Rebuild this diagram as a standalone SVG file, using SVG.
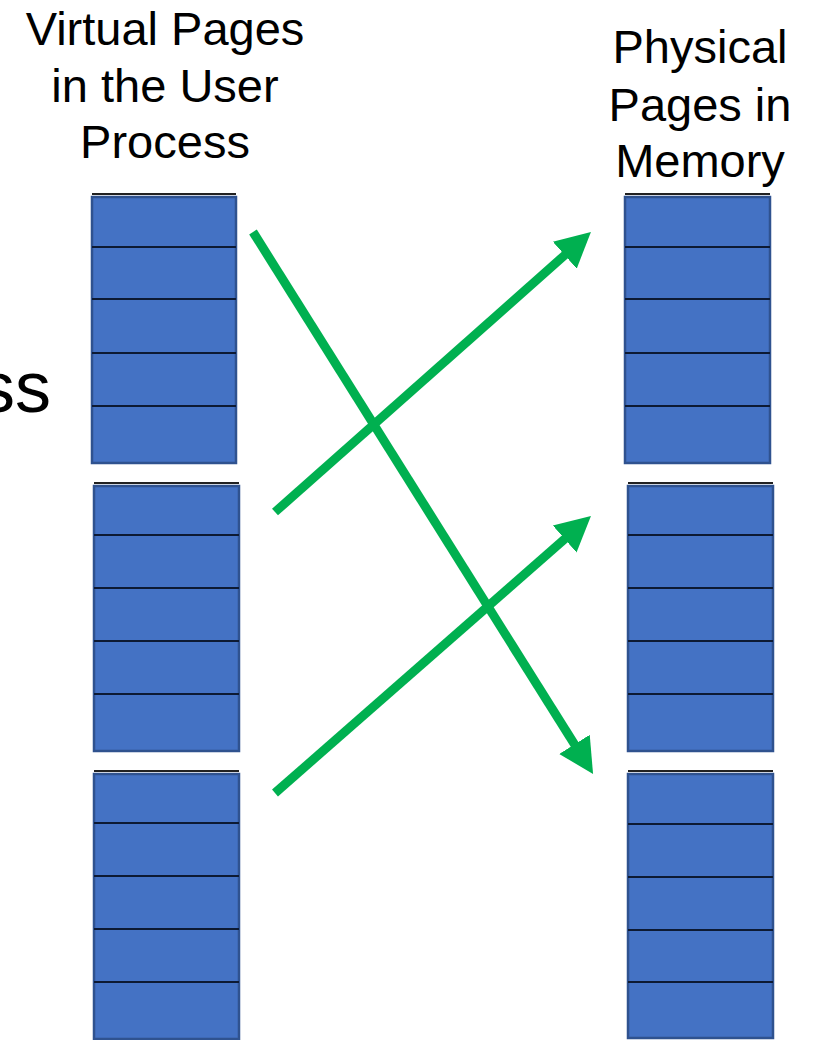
<svg xmlns="http://www.w3.org/2000/svg" width="817" height="1040" viewBox="0 0 817 1040">
<style>
.lbl{font-family:"Liberation Sans",Arial,sans-serif;font-size:47px;fill:#000;text-anchor:middle}
.page{fill:#4472C4;stroke:#2F528F;stroke-width:2.5}
.div{stroke:#0d1a33;stroke-width:2}
.top{stroke:#222;stroke-width:2}
.arr{stroke:#00B050;stroke-width:9;fill:none;marker-end:url(#ah)}
</style>
<defs>
<marker id="ah" markerUnits="userSpaceOnUse" markerWidth="40" markerHeight="40" viewBox="0 -20 40 40" refX="1" refY="0" orient="auto">
<path d="M0,-18 L35,0 L0,18 Z" fill="#00B050"/>
</marker>
</defs>
<rect width="817" height="1040" fill="#fff"/>
<g id="title-virtual">
<text class="lbl" x="165" y="45">Virtual Pages</text>
<text class="lbl" x="165" y="102">in the User</text>
<text class="lbl" x="165" y="158">Process</text>
</g>
<g id="title-physical">
<text class="lbl" x="700" y="63">Physical</text>
<text class="lbl" x="700" y="121">Pages in</text>
<text class="lbl" x="700" y="177">Memory</text>
</g>
<g id="cut-label">
<text x="51" y="412" font-family="Liberation Sans, Arial, sans-serif" font-size="72" text-anchor="end">ss</text>
</g>
<g id="virtual-stack-1">
<line class="top" x1="92" y1="194" x2="236" y2="194"/>
<rect class="page" x="92" y="197" width="144" height="266"/>
<line class="div" x1="92" y1="247" x2="236" y2="247"/>
<line class="div" x1="92" y1="299" x2="236" y2="299"/>
<line class="div" x1="92" y1="353" x2="236" y2="353"/>
<line class="div" x1="92" y1="406" x2="236" y2="406"/>
</g>
<g id="virtual-stack-2">
<line class="top" x1="94" y1="483" x2="239" y2="483"/>
<rect class="page" x="94" y="486" width="145" height="265"/>
<line class="div" x1="94" y1="535" x2="239" y2="535"/>
<line class="div" x1="94" y1="588" x2="239" y2="588"/>
<line class="div" x1="94" y1="641" x2="239" y2="641"/>
<line class="div" x1="94" y1="694" x2="239" y2="694"/>
</g>
<g id="virtual-stack-3">
<line class="top" x1="94" y1="771" x2="239" y2="771"/>
<rect class="page" x="94" y="774" width="145" height="265"/>
<line class="div" x1="94" y1="823" x2="239" y2="823"/>
<line class="div" x1="94" y1="876" x2="239" y2="876"/>
<line class="div" x1="94" y1="929" x2="239" y2="929"/>
<line class="div" x1="94" y1="982" x2="239" y2="982"/>
</g>
<g id="physical-stack-1">
<line class="top" x1="625" y1="194" x2="770" y2="194"/>
<rect class="page" x="625" y="197" width="145" height="266"/>
<line class="div" x1="625" y1="247" x2="770" y2="247"/>
<line class="div" x1="625" y1="299" x2="770" y2="299"/>
<line class="div" x1="625" y1="353" x2="770" y2="353"/>
<line class="div" x1="625" y1="406" x2="770" y2="406"/>
</g>
<g id="physical-stack-2">
<line class="top" x1="628" y1="483" x2="773" y2="483"/>
<rect class="page" x="628" y="486" width="145" height="265"/>
<line class="div" x1="628" y1="535" x2="773" y2="535"/>
<line class="div" x1="628" y1="588" x2="773" y2="588"/>
<line class="div" x1="628" y1="641" x2="773" y2="641"/>
<line class="div" x1="628" y1="694" x2="773" y2="694"/>
</g>
<g id="physical-stack-3">
<line class="top" x1="628" y1="771" x2="773" y2="771"/>
<rect class="page" x="628" y="774" width="145" height="264"/>
<line class="div" x1="628" y1="824" x2="773" y2="824"/>
<line class="div" x1="628" y1="877" x2="773" y2="877"/>
<line class="div" x1="628" y1="930" x2="773" y2="930"/>
<line class="div" x1="628" y1="982" x2="773" y2="982"/>
</g>
<g id="connectors">
<line class="arr" x1="253" y1="232" x2="575" y2="745.2"/>
<line class="arr" x1="275" y1="512" x2="565.5" y2="254.5"/>
<line class="arr" x1="275" y1="793" x2="565.4" y2="538.4"/>
</g>
</svg>
